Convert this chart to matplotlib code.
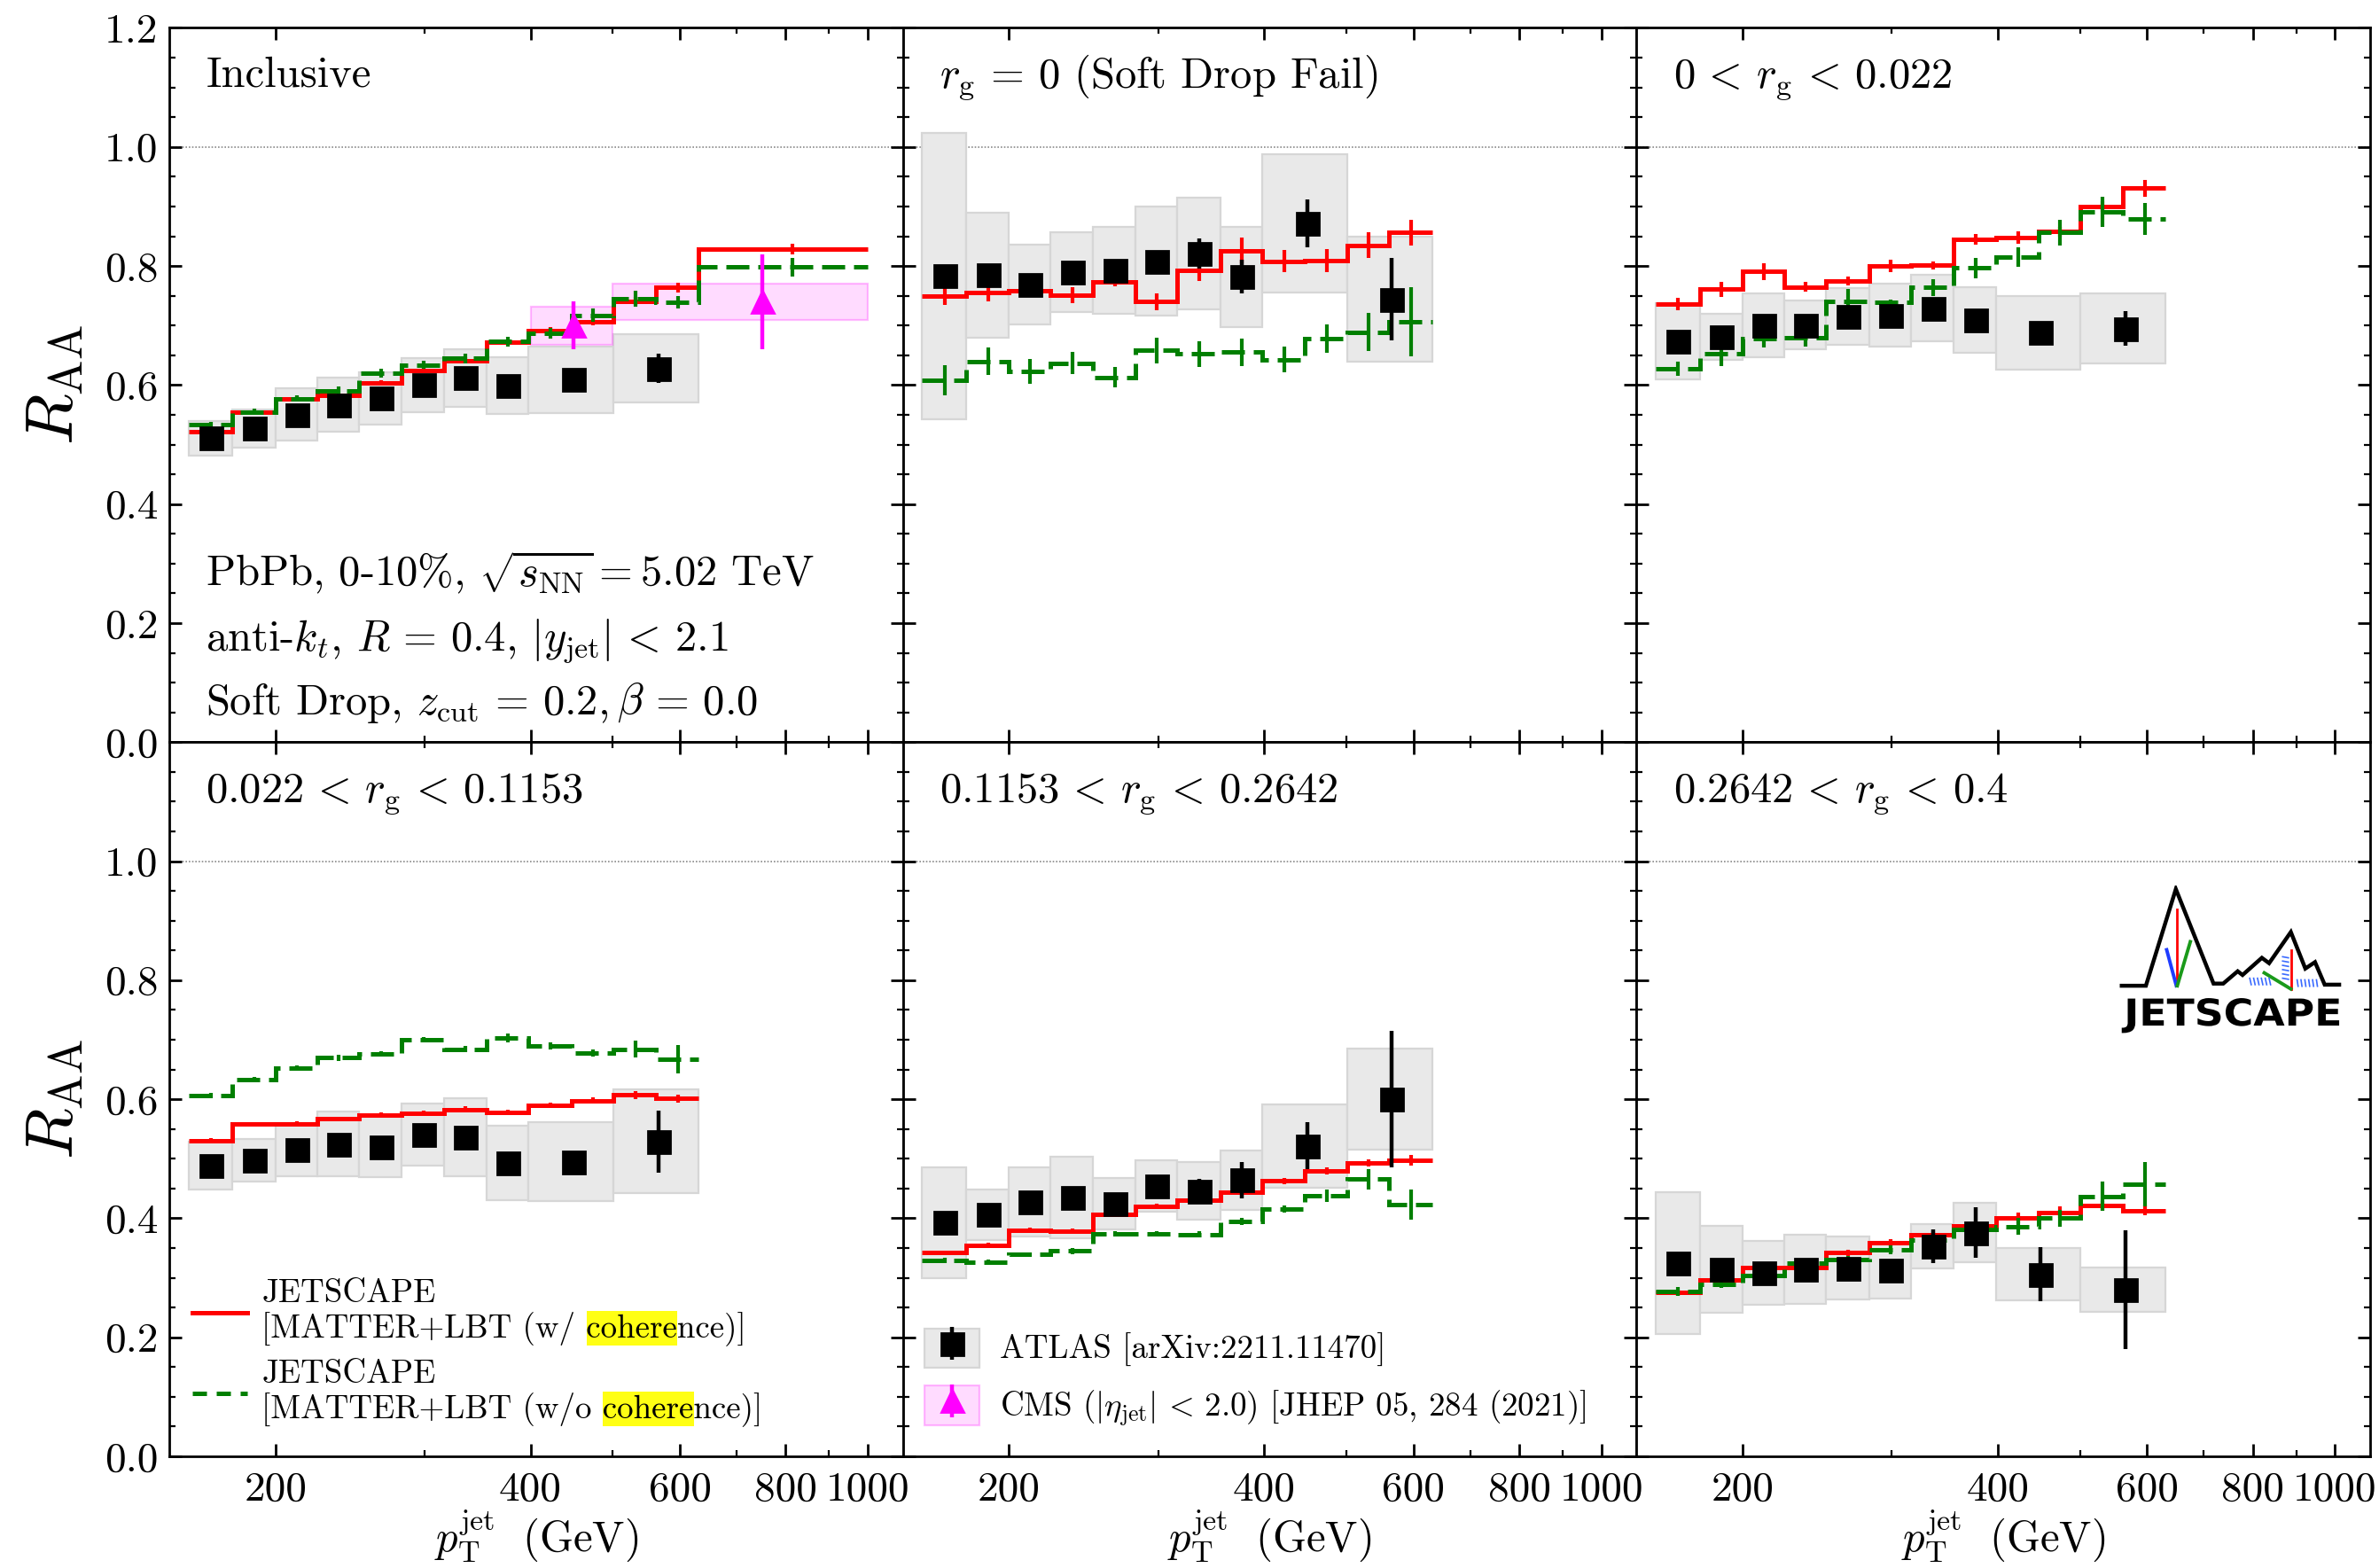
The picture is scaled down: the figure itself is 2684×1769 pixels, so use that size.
import numpy as np
import matplotlib
matplotlib.use("Agg")
import matplotlib.pyplot as plt
from matplotlib.patches import Rectangle, PathPatch
from matplotlib.lines import Line2D
from matplotlib.textpath import TextPath
from matplotlib.font_manager import FontProperties
from matplotlib.legend_handler import HandlerTuple
from matplotlib.transforms import Affine2D
from matplotlib.ticker import FixedLocator, NullFormatter, FixedFormatter, MultipleLocator, FuncFormatter

plt.rcParams.update({
    "font.family": "serif",
    "font.serif": ["cmr10"],
    "mathtext.fontset": "cm",
    "axes.formatter.use_mathtext": True,
    "axes.linewidth": 1.0,
})

# ---------------- binning ----------------
atlas_edges = np.array([158, 178, 200, 224, 251, 282, 316, 355, 398, 501, 631])
model_edges = np.array([158, 178, 200, 224, 251, 282, 316, 355, 398, 447, 501, 562, 631])
model_edges_incl = np.append(model_edges, 1000)
cms_edges = np.array([400, 500, 1000])

panel_titles = [
    "Inclusive",
    r"$r_{\rm g} \,=\, 0$ (Soft Drop Fail)",
    r"$0 \,<\, r_{\rm g} \,<\, 0.022$",
    r"$0.022 \,<\, r_{\rm g} \,<\, 0.1153$",
    r"$0.1153 \,<\, r_{\rm g} \,<\, 0.2642$",
    r"$0.2642 \,<\, r_{\rm g} \,<\, 0.4$",
]

# ---------------- ATLAS R_AA ----------------
atlas_incl = [0.511, 0.527, 0.550, 0.567, 0.578, 0.600, 0.612, 0.599, 0.609, 0.628]
atlas_incl_stat = [0.006, 0.006, 0.006, 0.007, 0.007, 0.007, 0.008, 0.009, 0.010, 0.024]
atlas_incl_sys = [0.029, 0.032, 0.044, 0.045, 0.044, 0.045, 0.048, 0.048, 0.056, 0.057]

atlas_rg0 = [0.783, 0.785, 0.769, 0.790, 0.793, 0.808, 0.821, 0.782, 0.872, 0.744]
atlas_rg0_stat = [0.012, 0.012, 0.014, 0.012, 0.014, 0.012, 0.025, 0.028, 0.040, 0.069]
atlas_rg0_sys = [0.241, 0.105, 0.067, 0.067, 0.073, 0.092, 0.094, 0.084, 0.116, 0.105]

atlas_rg1 = [0.673, 0.681, 0.700, 0.701, 0.715, 0.717, 0.729, 0.709, 0.688, 0.695]
atlas_rg1_stat = [0.010, 0.010, 0.010, 0.010, 0.010, 0.010, 0.012, 0.012, 0.014, 0.029]
atlas_rg1_sys = [0.064, 0.038, 0.054, 0.041, 0.048, 0.053, 0.056, 0.055, 0.062, 0.059]

atlas_rg2 = [0.489, 0.497, 0.515, 0.525, 0.520, 0.541, 0.536, 0.493, 0.495, 0.529]
atlas_rg2_stat = [0.010, 0.010, 0.010, 0.010, 0.010, 0.010, 0.012, 0.014, 0.018, 0.052]
atlas_rg2_sys = [0.040, 0.036, 0.045, 0.055, 0.051, 0.052, 0.066, 0.062, 0.066, 0.087]

atlas_rg3 = [0.393, 0.406, 0.427, 0.435, 0.424, 0.454, 0.446, 0.464, 0.522, 0.600]
atlas_rg3_stat = [0.010, 0.010, 0.012, 0.012, 0.012, 0.014, 0.020, 0.031, 0.040, 0.115]
atlas_rg3_sys = [0.093, 0.042, 0.058, 0.069, 0.043, 0.043, 0.048, 0.050, 0.070, 0.085]

atlas_rg4 = [0.325, 0.315, 0.308, 0.314, 0.316, 0.313, 0.353, 0.376, 0.306, 0.280]
atlas_rg4_stat = [0.012, 0.014, 0.014, 0.014, 0.014, 0.014, 0.028, 0.043, 0.045, 0.100]
atlas_rg4_sys = [0.119, 0.073, 0.054, 0.058, 0.053, 0.048, 0.037, 0.050, 0.044, 0.037]

# ---------------- CMS inclusive R_AA ----------------
cms_incl = [0.70, 0.74]
cms_incl_stat = [0.040, 0.080]
cms_incl_sys = [0.032, 0.031]

# ---------------- JETSCAPE MATTER+LBT, with coherence ----------------
coh_incl = [0.522, 0.554, 0.577, 0.582, 0.604, 0.625, 0.641, 0.672, 0.691, 0.707, 0.741, 0.764, 0.829]
coh_incl_err = [0.004, 0.004, 0.004, 0.004, 0.004, 0.005, 0.005, 0.005, 0.006, 0.006, 0.007, 0.008, 0.009]
coh_rg0 = [0.750, 0.755, 0.759, 0.751, 0.774, 0.740, 0.792, 0.826, 0.808, 0.809, 0.835, 0.856]
coh_rg0_err = [0.016, 0.014, 0.009, 0.013, 0.008, 0.014, 0.017, 0.022, 0.019, 0.020, 0.021, 0.022]
coh_rg1 = [0.736, 0.761, 0.791, 0.765, 0.775, 0.800, 0.801, 0.845, 0.848, 0.858, 0.900, 0.931]
coh_rg1_err = [0.010, 0.013, 0.014, 0.008, 0.007, 0.010, 0.007, 0.009, 0.010, 0.008, 0.009, 0.014]
coh_rg2 = [0.530, 0.558, 0.559, 0.567, 0.574, 0.577, 0.583, 0.578, 0.590, 0.598, 0.607, 0.601]
coh_rg2_err = [0.004, 0.004, 0.004, 0.004, 0.004, 0.004, 0.005, 0.005, 0.005, 0.005, 0.007, 0.006]
coh_rg3 = [0.342, 0.355, 0.380, 0.379, 0.407, 0.420, 0.430, 0.444, 0.463, 0.479, 0.493, 0.498]
coh_rg3_err = [0.004, 0.004, 0.004, 0.004, 0.004, 0.004, 0.005, 0.005, 0.005, 0.006, 0.006, 0.009]
coh_rg4 = [0.275, 0.297, 0.317, 0.318, 0.342, 0.359, 0.373, 0.388, 0.401, 0.410, 0.421, 0.413]
coh_rg4_err = [0.005, 0.005, 0.005, 0.005, 0.005, 0.006, 0.006, 0.007, 0.009, 0.010, 0.008, 0.008]

# ---------------- JETSCAPE MATTER+LBT, without coherence ----------------
nocoh_incl = [0.533, 0.555, 0.577, 0.590, 0.620, 0.634, 0.645, 0.673, 0.687, 0.717, 0.745, 0.739, 0.798]
nocoh_incl_err = [0.005, 0.005, 0.005, 0.008, 0.008, 0.007, 0.008, 0.008, 0.009, 0.011, 0.014, 0.011, 0.016]
nocoh_rg0 = [0.608, 0.640, 0.623, 0.637, 0.613, 0.658, 0.652, 0.655, 0.643, 0.678, 0.689, 0.706]
nocoh_rg0_err = [0.026, 0.023, 0.021, 0.018, 0.017, 0.021, 0.022, 0.023, 0.022, 0.024, 0.032, 0.058]
nocoh_rg1 = [0.628, 0.652, 0.678, 0.679, 0.741, 0.739, 0.764, 0.797, 0.815, 0.856, 0.891, 0.879]
nocoh_rg1_err = [0.012, 0.020, 0.015, 0.014, 0.020, 0.005, 0.014, 0.017, 0.017, 0.022, 0.025, 0.027]
nocoh_rg2 = [0.606, 0.633, 0.653, 0.670, 0.676, 0.700, 0.684, 0.703, 0.689, 0.677, 0.684, 0.667]
nocoh_rg2_err = [0.004, 0.004, 0.004, 0.005, 0.005, 0.005, 0.005, 0.007, 0.006, 0.006, 0.014, 0.024]
nocoh_rg3 = [0.329, 0.326, 0.339, 0.345, 0.374, 0.374, 0.373, 0.395, 0.415, 0.438, 0.466, 0.423]
nocoh_rg3_err = [0.004, 0.004, 0.004, 0.005, 0.005, 0.005, 0.005, 0.006, 0.006, 0.010, 0.017, 0.025]
nocoh_rg4 = [0.277, 0.289, 0.304, 0.324, 0.331, 0.347, 0.364, 0.382, 0.386, 0.400, 0.437, 0.457]
nocoh_rg4_err = [0.007, 0.006, 0.006, 0.006, 0.006, 0.007, 0.008, 0.010, 0.014, 0.014, 0.025, 0.037]

atlas_vals = [atlas_incl, atlas_rg0, atlas_rg1, atlas_rg2, atlas_rg3, atlas_rg4]
atlas_stat = [atlas_incl_stat, atlas_rg0_stat, atlas_rg1_stat, atlas_rg2_stat, atlas_rg3_stat, atlas_rg4_stat]
atlas_sys = [atlas_incl_sys, atlas_rg0_sys, atlas_rg1_sys, atlas_rg2_sys, atlas_rg3_sys, atlas_rg4_sys]
coh_vals = [coh_incl, coh_rg0, coh_rg1, coh_rg2, coh_rg3, coh_rg4]
coh_errs = [coh_incl_err, coh_rg0_err, coh_rg1_err, coh_rg2_err, coh_rg3_err, coh_rg4_err]
nocoh_vals = [nocoh_incl, nocoh_rg0, nocoh_rg1, nocoh_rg2, nocoh_rg3, nocoh_rg4]
nocoh_errs = [nocoh_incl_err, nocoh_rg0_err, nocoh_rg1_err, nocoh_rg2_err, nocoh_rg3_err, nocoh_rg4_err]

# ---------------- styling ----------------
RED = "#ff0000"
GREEN = "#007f00"
GREY_FC = "#e9e9e9"
GREY_EC = "#d6d6d6"
PINK_FC = (1.0, 0.0, 1.0, 0.14)
PINK_EC = (1.0, 0.0, 1.0, 0.25)
MAGENTA = "#ff00ff"
DASH = (0, (5.2, 2.0))
TICK_FS = 17
TEXT_FS = 17.5
LEG_FS = 13.3

fig = plt.figure(figsize=(13.42, 8.845), dpi=200)
gs = fig.add_gridspec(2, 3, left=0.0712, right=0.9963, top=0.9822, bottom=0.0712,
                      wspace=0, hspace=0)
axes = np.empty((2, 3), dtype=object)
for r in range(2):
    for c in range(3):
        axes[r, c] = fig.add_subplot(gs[r, c])

handles = {}
for k, ax in enumerate(axes.flat):
    r, c = divmod(k, 3)
    ax.set_xscale("log")
    ax.set_xlim(150, 1100)
    ax.set_ylim(0, 1.2)
    ax.axhline(1.0, color="#8a8a8a", lw=0.6, ls=(0, (1, 1.2)), zorder=0.5)

    # ATLAS systematic boxes
    lo, hi = atlas_edges[:-1], atlas_edges[1:]
    cen = 0.5 * (lo + hi)
    y = np.array(atlas_vals[k])
    s = np.array(atlas_sys[k])
    ax.bar(lo, 2 * s, width=hi - lo, bottom=y - s, align="edge",
           color=GREY_FC, edgecolor=GREY_EC, lw=0.8, zorder=1)

    if k == 0:
        clo, chi = cms_edges[:-1], cms_edges[1:]
        ccen = 0.5 * (clo + chi)
        cy = np.array(cms_incl)
        cs = np.array(cms_incl_sys)
        ax.bar(clo, 2 * cs, width=chi - clo, bottom=cy - cs, align="edge",
               color=PINK_FC, edgecolor=PINK_EC, lw=0.8, zorder=1.5)

    edges = model_edges_incl if k == 0 else model_edges
    mc = 0.5 * (edges[:-1] + edges[1:])
    ax.stairs(coh_vals[k], edges, baseline=None, color=RED, lw=1.8, zorder=3)
    ax.errorbar(mc, coh_vals[k], yerr=coh_errs[k], fmt="none", ecolor=RED,
                elinewidth=1.5, capsize=0, zorder=3)
    ax.stairs(nocoh_vals[k], edges, baseline=None, color=GREEN, lw=1.8, ls=DASH, zorder=4)
    ax.errorbar(mc, nocoh_vals[k], yerr=nocoh_errs[k], fmt="none", ecolor=GREEN,
                elinewidth=1.5, capsize=0, zorder=4)

    eb = ax.errorbar(cen, y, yerr=atlas_stat[k], fmt="s", color="k", ms=9,
                     elinewidth=1.6, capsize=0, zorder=6)
    handles.setdefault("atlas", eb)
    if k == 0:
        handles["cms"] = ax.errorbar(ccen, cy, yerr=cms_incl_stat, fmt="^", color=MAGENTA,
                                     ms=9, elinewidth=1.6, capsize=0, zorder=7)

    # axes decoration
    ax.xaxis.set_major_locator(FixedLocator([200, 400, 600, 800, 1000]))
    ax.xaxis.set_minor_locator(FixedLocator([300, 500, 700, 900]))
    ax.xaxis.set_major_formatter(FixedFormatter(["200", "400", "600", "800", "1000"]))
    ax.xaxis.set_minor_formatter(NullFormatter())
    ax.yaxis.set_major_locator(MultipleLocator(0.2))
    ax.yaxis.set_minor_locator(MultipleLocator(0.05))
    if r == 0:
        ax.yaxis.set_major_formatter(FuncFormatter(lambda v, p: f"{v:.1f}"))
    else:
        ax.yaxis.set_major_formatter(FuncFormatter(lambda v, p: "" if v > 1.1 else f"{v:.1f}"))
    ax.tick_params(which="both", direction="in", top=True, right=True, labelsize=TICK_FS)
    ax.tick_params(which="major", length=5, width=1.0)
    ax.tick_params(which="minor", length=2.6, width=0.8)
    ax.tick_params(axis="x", pad=6)
    ax.tick_params(axis="y", pad=4.5)
    if c != 0:
        ax.tick_params(labelleft=False)
    else:
        ax.set_ylabel(r"$R_{\rm AA}$", fontsize=27, labelpad=8)
    if r == 0:
        ax.tick_params(labelbottom=False)
    else:
        ax.set_xlabel(r"$p_{\rm T}^{\rm jet}\;$ (GeV)", fontsize=17.5, labelpad=0)

    ax.text(0.05, 0.918, panel_titles[k], transform=ax.transAxes, fontsize=TEXT_FS,
            va="baseline", ha="left")

# collision system annotation
ax0 = axes[0, 0]
ax0.text(0.05, 0.219, r"PbPb, 0-10%, $\sqrt{s_{\rm NN}} = 5.02$ TeV", transform=ax0.transAxes,
         fontsize=TEXT_FS, va="baseline")
ax0.text(0.05, 0.130, r"anti-$k_t$, $R \,=\, 0.4$, $|y_{\rm jet}| \,<\, 2.1$",
         transform=ax0.transAxes, fontsize=TEXT_FS, va="baseline")
ax0.text(0.05, 0.039, r"Soft Drop, $z_{\rm cut} \,=\, 0.2, \beta \,=\, 0.0$",
         transform=ax0.transAxes, fontsize=TEXT_FS, va="baseline")

# model legend
model_labels = ["JETSCAPE\n[MATTER+LBT (w/ coherence)]",
                "JETSCAPE\n[MATTER+LBT (w/o coherence)]"]
h_coh = Line2D([], [], color=RED, lw=1.8)
h_nocoh = Line2D([], [], color=GREEN, lw=1.8, ls=(0, (3.2, 2.2)))
axl = axes[1, 0]
leg1 = axl.legend([h_coh, h_nocoh], model_labels, loc="lower left",
                  bbox_to_anchor=(0.031, 0.042), frameon=False, fontsize=LEG_FS,
                  handlelength=1.68, handletextpad=0.45, borderpad=0, borderaxespad=0,
                  labelspacing=0.44)
for t in leg1.get_texts():
    t.set_linespacing(1.1)

# data legend
axm = axes[1, 1]
atlas_box = Rectangle((0, 0), 1, 1, fc=GREY_FC, ec=GREY_EC, lw=0.8)
cms_box = Rectangle((0, 0), 1, 1, fc=PINK_FC, ec=PINK_EC, lw=0.8)
leg2 = axm.legend([(atlas_box, handles["atlas"]), (cms_box, handles["cms"])],
                  ["ATLAS [arXiv:2211.11470]",
                   r"CMS ($|\eta_{\rm jet}| \,<\, 2.0$) [JHEP 05, 284 (2021)]"],
                  handler_map={tuple: HandlerTuple(ndivide=1, pad=0)},
                  loc="lower left", bbox_to_anchor=(0.029, 0.040), frameon=False,
                  fontsize=LEG_FS, handlelength=1.68, handleheight=1.49,
                  handletextpad=0.63, borderpad=0, borderaxespad=0, labelspacing=0.53)

# JETSCAPE logo
logo = axes[1, 2].inset_axes([0.658, 0.589, 0.303, 0.2105])
logo.set_xlim(1030, 1490)
logo.set_ylim(575, 295)
logo.axis("off")
ridge_x = [1035, 1085, 1147, 1225, 1245, 1275, 1285, 1325, 1340, 1385, 1415, 1435, 1455, 1485]
ridge_y = [482, 482, 302, 478, 478, 455, 462, 430, 440, 382, 450, 438, 480, 480]
logo.plot(ridge_x, ridge_y, color="k", lw=1.6, solid_joinstyle="miter")
logo.plot([1150, 1150], [340, 482], color=RED, lw=1.0)
logo.plot([1128, 1148], [415, 482], color="#1f3cff", lw=1.4)
logo.plot([1177, 1150], [400, 482], color="#1a9a1a", lw=1.4)
logo.plot([1385, 1385], [415, 488], color=RED, lw=1.0)
logo.plot([1330, 1385], [458, 488], color="#1a9a1a", lw=1.4)
for xx in range(1300, 1342, 8):
    logo.plot([xx, xx + 3], [468, 480], color="#3b6bff", lw=0.6)
for yy in range(428, 472, 8):
    logo.plot([1368, 1380], [yy, yy + 2], color="#3b6bff", lw=0.6)
for xx in range(1398, 1440, 8):
    logo.plot([xx, xx + 2], [471, 483], color="#3b6bff", lw=0.6)
tp = TextPath((0, 0), "JETSCAPE", size=1, prop=FontProperties(family="DejaVu Sans", weight="bold"))
ext = tp.get_extents()
tr = Affine2D().translate(-ext.x0, -ext.y0).scale((1485 - 1035) / ext.width,
                                                  -(570 - 505) / ext.height).translate(1035, 570)
logo.add_patch(PathPatch(tr.transform_path(tp), fc="k", ec="none"))

# yellow marker behind part of the model labels
fig.canvas.draw()
renderer = fig.canvas.get_renderer()
for t in leg1.get_texts():
    prop = t.get_fontproperties()
    line = t.get_text().split("\n")[1]
    i = line.index("cohere")

    def width(txt):
        return renderer.get_text_width_height_descent(txt, prop, ismath=False)[0]

    w_word = width("cohere")
    x_end = width(line[:i + 6])
    x_start = x_end - w_word
    _, h_line, _ = renderer.get_text_width_height_descent(line, prop, ismath=False)
    bb = t.get_window_extent(renderer)
    inv = axl.transAxes.inverted()
    (ax0x, ax0y), (ax1x, ax1y) = inv.transform([(bb.x0 + x_start, bb.y0),
                                                (bb.x0 + x_end, bb.y0 + h_line)])
    axl.add_patch(Rectangle((ax0x, ax0y), ax1x - ax0x, ax1y - ax0y, transform=axl.transAxes,
                            fc="#ffff14", ec="none", zorder=4.5, clip_on=False))

fig.savefig("out.png", dpi=200)
